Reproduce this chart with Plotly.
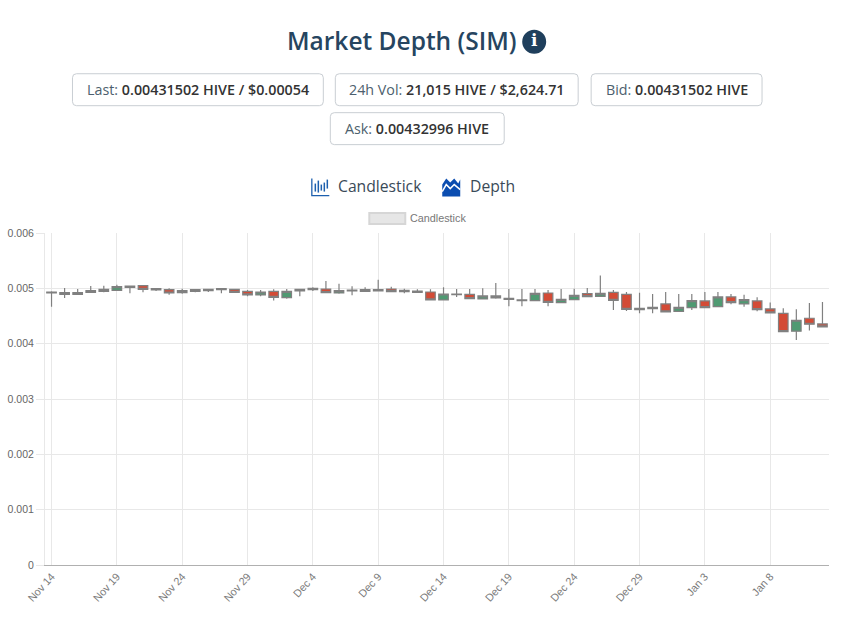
import plotly.graph_objects as go

W, H = 867, 621
L, R, T, B = 44.5, 829, 232.5, 565

days = (["Nov %d" % d for d in range(14, 31)] + ["Dec %d" % d for d in range(1, 32)]
        + ["Jan %d" % d for d in range(1, 13)])
tick_labels = ["Nov 14", "Nov 19", "Nov 24", "Nov 29", "Dec 4", "Dec 9", "Dec 14",
               "Dec 19", "Dec 24", "Dec 29", "Jan 3", "Jan 8"]

high = [.004946,.005006,.004988,.005042,.005048,.005066,.005048,.005054,.005006,.005000,
        .004994,.004988,.004994,.005006,.004994,.004970,.004970,.004982,.004988,.004988,
        .005018,.005132,.005084,.005036,.005018,.005156,.005030,.004994,.004982,.004982,
        .005018,.004988,.004988,.005000,.005096,.004988,.004988,.004988,.004970,.004988,
        .004994,.005006,.005234,.004970,.004934,.004922,.004898,.004934,.004898,.004898,
        .004934,.004934,.004898,.004886,.004838,.004742,.004639,.004621,.004736,.004754]
low = [.004669,.004826,.004886,.004916,.004928,.004952,.004910,.004928,.004952,.004886,
       .004904,.004928,.004934,.004910,.004922,.004856,.004856,.004778,.004814,.004856,
       .004952,.004916,.004904,.004874,.004934,.004946,.004934,.004910,.004916,.004778,
       .004778,.004844,.004802,.004796,.004814,.004675,.004675,.004766,.004675,.004730,
       .004790,.004844,.004844,.004609,.004591,.004549,.004549,.004561,.004573,.004609,
       .004645,.004657,.004712,.004669,.004585,.004543,.004213,.004068,.004237,.004297]
open_ = [.004916,.004892,.004892,.004928,.004946,.004964,.005018,.005048,.004970,.004976,
         .004922,.004946,.004958,.004976,.004982,.004946,.004880,.004946,.004832,.004952,
         .004976,.004988,.004916,.004952,.004946,.004952,.004988,.004940,.004952,.004934,
         .004790,.004886,.004892,.004808,.004862,.004802,.004778,.004778,.004916,.004742,
         .004796,.004904,.004856,.004928,.004892,.004615,.004633,.004718,.004585,.004651,
         .004772,.004669,.004844,.004718,.004772,.004627,.004549,.004225,.004459,.004357]
close = [.004934,.004922,.004922,.004958,.004982,.005030,.005042,.004982,.004994,.004916,
         .004958,.004976,.004982,.004994,.004928,.004880,.004934,.004838,.004946,.004982,
         .005000,.004922,.004958,.004970,.004976,.004976,.004940,.004964,.004928,.004790,
         .004898,.004898,.004814,.004862,.004826,.004820,.004790,.004910,.004748,.004802,
         .004874,.004850,.004910,.004784,.004621,.004639,.004657,.004573,.004657,.004778,
         .004651,.004844,.004742,.004796,.004615,.004555,.004219,.004423,.004351,.004303]

TITLE = "Market Depth (SIM)"
stats = [("Last: ", "0.00431502 HIVE / $0.00054"), ("24h Vol: ", "21,015 HIVE / $2,624.71"),
         ("Bid: ", "0.00431502 HIVE"), ("Ask: ", "0.00432996 HIVE")]
tabs = ["Candlestick", "Depth"]

def px(x): return (x - L) / (R - L)
def py(y): return (B - y) / (B - T)

GRAY = "#808080"
fig = go.Figure(go.Candlestick(
    x=days, open=open_, high=high, low=low, close=close, whiskerwidth=0,
    increasing=dict(line=dict(color=GRAY, width=1.2), fillcolor="#4f9a72"),
    decreasing=dict(line=dict(color=GRAY, width=1.2), fillcolor="#d34b36"),
    showlegend=False))

def rrect(x0, y0, x1, y1, r=4):
    X0, X1, Y0, Y1 = px(x0), px(x1), py(y0), py(y1)
    rx, ry = r / (R - L), r / (B - T)
    return (f"M{X0+rx},{Y0} L{X1-rx},{Y0} Q{X1},{Y0} {X1},{Y0-ry} L{X1},{Y1+ry} Q{X1},{Y1} {X1-rx},{Y1} "
            f"L{X0+rx},{Y1} Q{X0},{Y1} {X0},{Y1+ry} L{X0},{Y0-ry} Q{X0},{Y0} {X0+rx},{Y0} Z")

def poly(points):
    return "M" + " L".join(f"{px(a)},{py(b)}" for a, b in points)

shapes, annos = [], []
def add_text(x, y, text, size, color, anchor="center", family="Open Sans"):
    annos.append(dict(xref="paper", yref="paper", x=px(x), y=py(y), text=text, showarrow=False,
                      xanchor=anchor, yanchor="middle", font=dict(size=size, color=color, family=family)))

add_text(402, 39.5, f"<span style='font-weight:600'>{TITLE}</span>", 24.5, "#264560")
shapes.append(dict(type="circle", xref="paper", yref="paper", x0=px(522), x1=px(546), y0=py(29), y1=py(53),
                   fillcolor="#1f3f5c", line=dict(width=0)))
add_text(534, 39.5, "<b>i</b>", 17, "white", family="DejaVu Serif")

boxes = [(72, 73, 323, 105), (335, 73, 578, 105), (591, 73, 762, 105), (330, 112, 504, 144)]
for (x0, y0, x1, y1), (lab, val) in zip(boxes, stats):
    shapes.append(dict(type="path", xref="paper", yref="paper", path=rrect(x0, y0, x1, y1),
                       line=dict(color="#c9ced3", width=1), fillcolor="white"))
    add_text((x0 + x1) / 2, (y0 + y1) / 2 - 0.5,
             f"<span style='color:#4d5f6e'>{lab}</span><span style='font-weight:600'>{val}</span>",
             14.3, "#333333")

BLUE = "#1c5fae"
# candlestick tab icon
shapes.append(dict(type="path", xref="paper", yref="paper", path=poly([(311.5, 178), (311.5, 195), (329, 195)]),
                   line=dict(color=BLUE, width=1.3)))
for x, a, b in [(315, 183, 191), (318, 180, 192), (321, 184, 190), (324, 182, 191), (327, 179, 188)]:
    shapes.append(dict(type="line", xref="paper", yref="paper", x0=px(x), x1=px(x), y0=py(a), y1=py(b),
                       line=dict(color=BLUE, width=1.5)))
# depth tab icon
shapes.append(dict(type="path", xref="paper", yref="paper",
                   path=poly([(442, 196), (442, 184), (446, 178), (450, 182), (454, 178), (458, 183), (460, 179), (460, 196)]) + " Z",
                   fillcolor="#0b4db0", line=dict(width=0)))
shapes.append(dict(type="path", xref="paper", yref="paper",
                   path=poly([(442, 191), (446, 184), (450, 188), (454, 184), (460, 189)]),
                   line=dict(color="white", width=1.5)))
add_text(336, 185.5, tabs[0], 15.7, "#3a4a58", "left")
add_text(468, 185.5, tabs[1], 15.7, "#3a4a58", "left")

# legend box
shapes.append(dict(type="rect", xref="paper", yref="paper", x0=px(369), x1=px(405), y0=py(212.5), y1=py(223.5),
                   fillcolor="#e6e6e6", line=dict(color="#d6d6d6", width=2)))
add_text(408, 217, tabs[0], 10.8, "#777777", "left", "Liberation Sans")

fig.update_layout(
    width=W, height=H,
    boxgap=0.27, boxgroupgap=0,
    margin=dict(l=L, r=W - R, t=T, b=H - B, pad=0),
    paper_bgcolor="white", plot_bgcolor="white",
    shapes=shapes, annotations=annos,
    xaxis=dict(type="category", categoryorder="array", categoryarray=days, range=[-0.5, 59.5], automargin=False,
               rangeslider=dict(visible=False), tickmode="array", tickvals=tick_labels, ticktext=tick_labels,
               tickangle=-48, showgrid=True, gridcolor="#e8e8e8", gridwidth=1, showline=True, linecolor="#b0b0b0",
               linewidth=1, ticks="", zeroline=False,
               tickfont=dict(family="Liberation Sans", size=10.8, color="#7a7a7a")),
    yaxis=dict(range=[0, 0.006], tickmode="array", automargin=False, tickvals=[0, .001, .002, .003, .004, .005, .006],
               ticktext=["0", "0.001", "0.002", "0.003", "0.004", "0.005", "0.006"],
               showgrid=True, gridcolor="#e8e8e8", gridwidth=1, showline=True, linecolor="#e8e8e8", linewidth=1,
               ticks="outside", ticklen=8, tickcolor="#e8e8e8", zeroline=False,
               tickfont=dict(family="Liberation Sans", size=10.5, color="#666666")),
    font=dict(family="Open Sans"),
)
fig.write_html("out.html", config=dict(displayModeBar=False),
               post_script="document.body.style.margin='0';document.body.style.overflow='hidden';")
